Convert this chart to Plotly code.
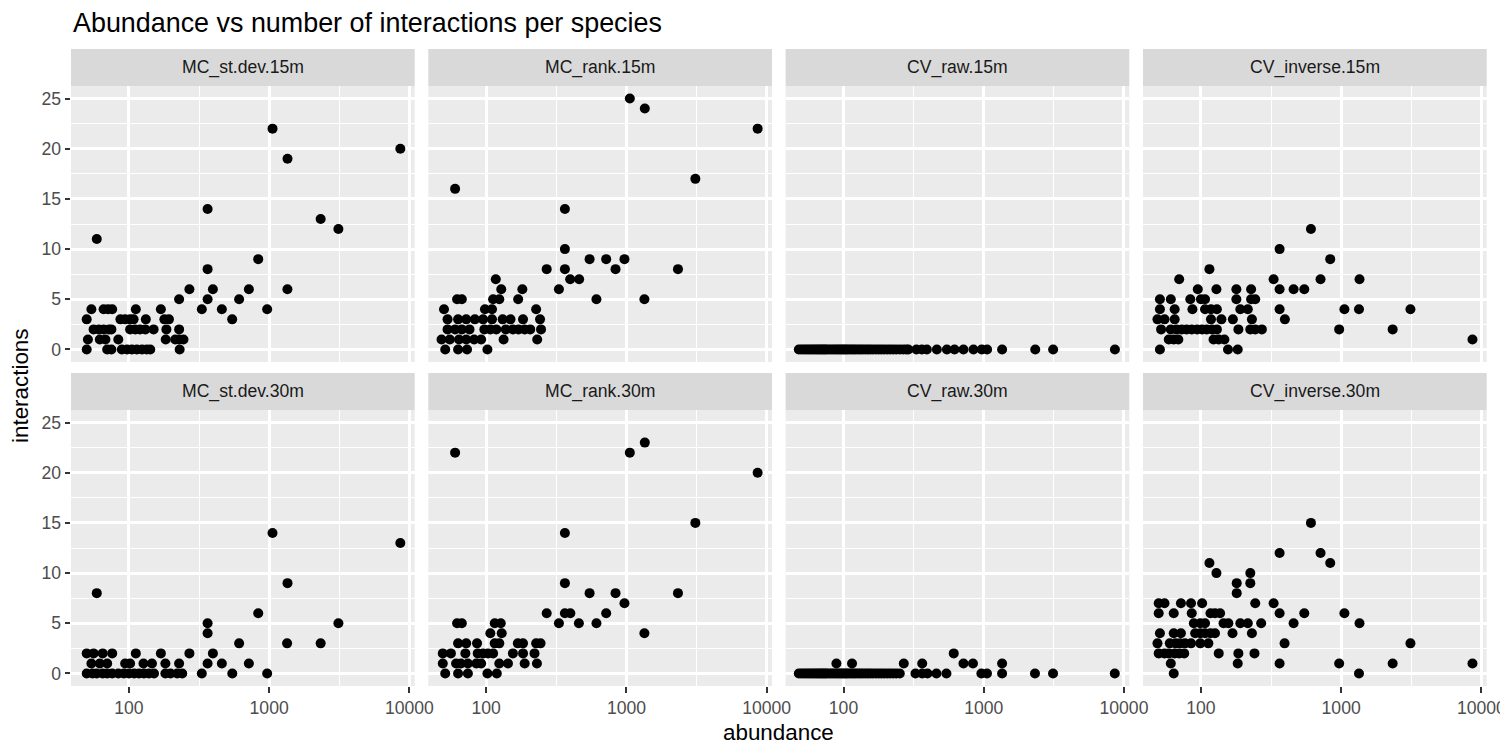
import plotly.graph_objects as go

# ---------------- data ----------------
panel_names = ["MC_st.dev.15m", "MC_rank.15m", "CV_raw.15m", "CV_inverse.15m",
               "MC_st.dev.30m", "MC_rank.30m", "CV_raw.30m", "CV_inverse.30m"]

x_tick_vals = [100, 1000, 10000]
x_tick_text = ["100", "1000", "10000"]
y_tick_vals = [0, 5, 10, 15, 20, 25]

# MC_st.dev.15m
st15_abund = [1057, 8620, 1352, 364, 2330, 3118, 59, 836, 364, 270, 397, 717, 1350, 228, 364, 611, 331, 460, 968, 545,
              54, 66, 71, 76, 112, 169,
              50, 87, 94, 102, 108, 132, 179, 193,
              56, 61, 66, 72, 75, 102, 111, 120, 131, 150, 185, 228,
              51, 62, 68, 84, 183, 214, 228, 245,
              50, 70, 75, 89, 97, 105, 114, 124, 134, 142, 230]
st15_inter = [22, 20, 19, 14, 13, 12, 11, 9, 8, 6, 6, 6, 6, 5, 5, 5, 4, 4, 4, 3,
              4, 4, 4, 4, 4, 4,
              3, 3, 3, 3, 3, 3, 3, 3,
              2, 2, 2, 2, 2, 2, 2, 2, 2, 2, 2, 2,
              1, 1, 1, 1, 1, 1, 1, 1,
              0, 0, 0, 0, 0, 0, 0, 0, 0, 0, 0]

# MC_rank.15m
rk15_abund = [1057, 1352, 8620, 3100, 60, 364, 364, 546, 717, 968, 270, 364, 836, 2330, 397, 460, 117, 330, 128, 181,
              62, 67, 112, 124, 169, 611, 1343,
              50, 98, 110, 227,
              53, 63, 72, 83, 95, 110, 131, 149, 183, 242,
              53, 60, 67, 76, 97, 107, 118, 138, 155, 170, 188, 206, 246,
              48, 55, 64, 72, 82, 92, 133, 231,
              51, 63, 73, 102]
rk15_inter = [25, 24, 22, 17, 16, 14, 10, 9, 9, 9, 8, 8, 8, 8, 7, 7, 7, 6, 6, 6,
              5, 5, 5, 5, 5, 5, 5,
              4, 4, 4, 4,
              3, 3, 3, 3, 3, 3, 3, 3, 3, 3,
              2, 2, 2, 2, 2, 2, 2, 2, 2, 2, 2, 2, 2,
              1, 1, 1, 1, 1, 1, 1, 1,
              0, 0, 0, 0]

# CV_raw.15m
raw15_abund = [48, 50, 52, 54, 56, 58, 60, 62, 64, 66, 68, 70, 72, 74, 76, 79, 82, 85, 88, 91, 94, 97, 100,
               103, 106, 110, 114, 118, 122, 127, 132, 137, 143, 149, 155, 162, 170, 178, 186, 195, 205,
               215, 226, 238, 252, 266, 280, 290,
               331, 362, 393, 463, 546, 619, 717, 845, 968, 1057, 1352, 2330, 3125, 8620]
raw15_inter = [0] * len(raw15_abund)

# CV_inverse.15m
inv15_abund = [609, 364, 836, 115, 70, 330, 713, 1352,
               95, 129, 179, 228, 364, 458, 546,
               51, 61, 84, 100, 107, 179, 228, 244,
               51, 65, 87, 107, 118, 130, 191, 216, 364, 1055, 1340, 3120,
               49, 55, 65, 118, 140, 169, 231, 397,
               52, 61, 67, 73, 79, 86, 94, 102, 110, 120, 130, 185, 225, 244, 272, 968, 2330,
               59, 64, 69, 123, 134, 147, 8640,
               51, 156, 183]
inv15_inter = [12, 10, 9, 8, 7, 7, 7, 7,
               6, 6, 6, 6, 6, 6, 6,
               5, 5, 5, 5, 5, 5, 5, 5,
               4, 4, 4, 4, 4, 4, 4, 4, 4, 4, 4, 4,
               3, 3, 3, 3, 3, 3, 3, 3,
               2, 2, 2, 2, 2, 2, 2, 2, 2, 2, 2, 2, 2, 2, 2, 2, 2,
               1, 1, 1, 1, 1, 1, 1,
               0, 0, 0]

# MC_st.dev.30m
st30_abund = [1057, 8620, 1352, 59, 836, 364, 364, 3118, 611, 1343, 2330,
              50, 56, 65, 76, 112, 169, 270, 397,
              54, 62, 70, 94, 102, 127, 146, 182, 228, 364, 460, 717,
              50, 55, 59, 65, 70, 76, 84, 92, 100, 109, 118, 128, 139, 151, 182, 198, 221, 240, 331, 546, 968]
st30_inter = [14, 13, 9, 8, 6, 5, 4, 5, 3, 3, 3,
              2, 2, 2, 2, 2, 2, 2, 2,
              1, 1, 1, 1, 1, 1, 1, 1, 1, 1, 1, 1,
              0, 0, 0, 0, 0, 0, 0, 0, 0, 0, 0, 0, 0, 0, 0, 0, 0, 0, 0, 0, 0]

# MC_rank.30m
rk30_abund = [60, 1057, 1352, 8620, 3100, 364, 364, 546, 836, 2330, 968, 270, 364, 398, 717, 330, 458, 611, 1343,
              62, 67, 115, 127, 107, 129,
              63, 72, 86, 115, 124, 168, 183, 227, 244,
              49, 56, 71, 87, 95, 103, 112, 155, 183, 221,
              49, 61, 66, 74, 85, 92, 124, 143, 188, 230,
              51, 63, 74, 102, 119]
rk30_inter = [22, 22, 23, 20, 15, 14, 9, 8, 8, 8, 7, 6, 6, 6, 6, 5, 5, 5, 4,
              5, 5, 5, 5, 4, 4,
              3, 3, 3, 3, 3, 3, 3, 3, 3,
              2, 2, 2, 2, 2, 2, 2, 2, 2, 2,
              1, 1, 1, 1, 1, 1, 1, 1, 1, 1,
              0, 0, 0, 0, 0]

# CV_raw.30m
raw30_abund = [611,
               89, 115, 269, 364, 717, 838, 1352,
               48, 50, 52, 54, 56, 58, 60, 62, 64, 66, 68, 70, 72, 74, 76, 79, 82, 85, 88, 91, 94, 97, 100,
               103, 106, 110, 114, 118, 122, 127, 132, 137, 143, 149, 155, 162, 170, 178, 186, 195, 205,
               215, 226, 238, 252,
               326, 364, 397, 460, 542, 962, 1055, 1352, 2320, 3120, 8600]
raw30_inter = [2,
               1, 1, 1, 1, 1, 1, 1] + [0] * 56

# CV_inverse.30m
inv30_abund = [609, 364, 713, 836, 115, 129, 225, 180, 225, 180,
               50, 55, 72, 85, 102, 244, 330,
               50, 64, 86, 117, 126, 137, 364, 546, 1055,
               89, 99, 107, 145, 157, 191, 216, 269, 458, 1352,
               51, 64, 72, 91, 99, 107, 117, 126, 168, 231,
               49, 60, 66, 71, 77, 85, 99, 113, 395, 3120,
               50, 55, 59, 65, 70, 76, 134, 185, 241,
               61, 183, 364, 968, 2330, 8640,
               64, 1340]
inv30_inter = [15, 12, 12, 11, 11, 10, 10, 9, 9, 8,
               7, 7, 7, 7, 7, 7, 7,
               6, 6, 6, 6, 6, 6, 6, 6, 6,
               5, 5, 5, 5, 5, 5, 5, 5, 5, 5,
               4, 4, 4, 4, 4, 4, 4, 4, 4, 4,
               3, 3, 3, 3, 3, 3, 3, 3, 3, 3,
               2, 2, 2, 2, 2, 2, 2, 2, 2,
               1, 1, 1, 1, 1, 1,
               0, 0]

panel_data = [(st15_abund, st15_inter), (rk15_abund, rk15_inter), (raw15_abund, raw15_inter),
              (inv15_abund, inv15_inter), (st30_abund, st30_inter), (rk30_abund, rk30_inter),
              (raw30_abund, raw30_inter), (inv30_abund, inv30_inter)]

# ---------------- layout geometry ----------------
W, H = 1500, 750
col_px = [(71, 414.7), (428.3, 772.0), (785.6, 1129.3), (1143.0, 1486.7)]
row_px = [(86, 362), (410, 686)]          # panel top/bottom (px from top)
strip_h = 37

FONT = "Liberation Sans, Arial, Helvetica, sans-serif"
GRID_MAJOR = 2.6
GRID_MINOR = 1.3
TICK_FONT = 17.6

fig = go.Figure()
layout = dict(
    width=W, height=H, autosize=False,
    margin=dict(l=0, r=0, t=0, b=0, pad=0),
    paper_bgcolor="white",
    plot_bgcolor="#EBEBEB",
    showlegend=False,
    font=dict(family=FONT, color="#4D4D4D"),
)

shapes = []
annotations = []

for i, (name, (xs, ys)) in enumerate(zip(panel_names, panel_data)):
    r, c = divmod(i, 4)
    k = i + 1
    xa = "x" if k == 1 else f"x{k}"
    ya = "y" if k == 1 else f"y{k}"
    fig.add_trace(go.Scatter(
        x=xs, y=ys, mode="markers", xaxis=xa, yaxis=ya,
        marker=dict(color="black", size=10, line=dict(width=0)),
        hoverinfo="x+y",
    ))
    x0, x1 = col_px[c]
    top, bot = row_px[r]
    xdom = [x0 / W, x1 / W]
    ydom = [(H - bot) / H, (H - top) / H]
    bottom_row = (r == 1)
    left_col = (c == 0)
    layout[f"xaxis{'' if k == 1 else k}"] = dict(
        type="log", range=[1.587, 4.038], domain=xdom, anchor=ya, automargin=False,
        tickvals=x_tick_vals, ticktext=x_tick_text, ticklabeloverflow="allow",
        showgrid=True, gridcolor="white", gridwidth=GRID_MAJOR,
        minor=dict(tickvals=[316.23, 3162.28], showgrid=True, gridcolor="white", gridwidth=GRID_MINOR),
        zeroline=False, showline=False,
        showticklabels=bottom_row,
        ticks="outside" if bottom_row else "", ticklen=5.5, tickwidth=2, tickcolor="#333333",
        tickfont=dict(size=TICK_FONT, color="#4D4D4D", family=FONT),
        fixedrange=True,
    )
    layout[f"yaxis{'' if k == 1 else k}"] = dict(
        range=[-1.25, 26.25], domain=ydom, anchor=xa, automargin=False,
        tickvals=y_tick_vals, ticklabeloverflow="allow",
        showgrid=True, gridcolor="white", gridwidth=GRID_MAJOR,
        minor=dict(tickvals=[2.5, 7.5, 12.5, 17.5, 22.5], showgrid=True, gridcolor="white", gridwidth=GRID_MINOR),
        zeroline=False, showline=False,
        showticklabels=left_col,
        ticks="outside" if left_col else "", ticklen=5.5, tickwidth=2, tickcolor="#333333",
        tickfont=dict(size=TICK_FONT, color="#4D4D4D", family=FONT),
        fixedrange=True,
    )
    # strip
    shapes.append(dict(type="rect", xref="paper", yref="paper",
                       x0=x0 / W, x1=x1 / W, y0=(H - top) / H, y1=(H - top + strip_h) / H,
                       fillcolor="#D9D9D9", line=dict(width=0), layer="below"))
    annotations.append(dict(text=name, xref="paper", yref="paper",
                            x=(x0 + x1) / 2 / W, y=(H - top + strip_h / 2) / H,
                            xanchor="center", yanchor="middle", showarrow=False,
                            font=dict(size=TICK_FONT, color="#1A1A1A", family=FONT)))

# title and axis titles
annotations.append(dict(text="Abundance vs number of interactions per species", xref="paper", yref="paper",
                        x=71 / W, y=1 - 23 / H, xanchor="left", yanchor="middle", showarrow=False,
                        font=dict(size=26.9, color="black", family=FONT)))
annotations.append(dict(text="abundance", xref="paper", yref="paper",
                        x=(col_px[0][0] + col_px[3][1]) / 2 / W, y=1 - 732 / H,
                        xanchor="center", yanchor="middle", showarrow=False,
                        font=dict(size=22.4, color="black", family=FONT)))
annotations.append(dict(text="interactions", xref="paper", yref="paper",
                        x=20 / W, y=1 - 386 / H, textangle=-90,
                        xanchor="center", yanchor="middle", showarrow=False,
                        font=dict(size=22.4, color="black", family=FONT)))

layout["shapes"] = shapes
layout["annotations"] = annotations
fig.update_layout(**layout)

fig.write_html(
    "out.html",
    config={"responsive": False, "displayModeBar": False},
    post_script="document.body.style.margin='0';document.body.style.overflow='hidden';",
)
